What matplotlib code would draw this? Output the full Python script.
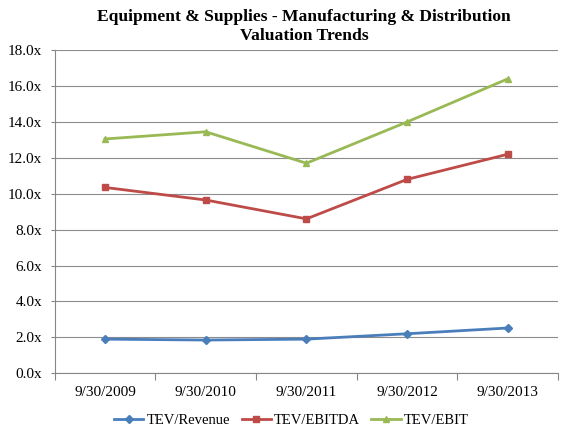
import matplotlib
matplotlib.use('Agg')
import matplotlib.pyplot as plt
import numpy as np
from matplotlib.ticker import FuncFormatter, FixedLocator

dates = ['9/30/2009', '9/30/2010', '9/30/2011', '9/30/2012', '9/30/2013']
tev_revenue = [1.90, 1.85, 1.90, 2.20, 2.52]
tev_ebitda = [10.35, 9.65, 8.60, 10.80, 12.20]
tev_ebit = [13.05, 13.45, 11.70, 14.00, 16.40]

plt.rcParams['font.family'] = ['Liberation Serif', 'DejaVu Serif']

fig = plt.figure(figsize=(5.76, 4.32), dpi=100)
ax = fig.add_axes([0.095, 0.136, 0.874, 0.748])

x = np.arange(len(dates))
ax.plot(x, tev_revenue, color='#4A7EBB', lw=2, marker='D', ms=4.5, label='TEV/Revenue')
ax.plot(x, tev_ebitda, color='#BE4B48', lw=2, marker='s', ms=4.5, label='TEV/EBITDA')
ax.plot(x, tev_ebit, color='#98B954', lw=2, marker='^', ms=5, label='TEV/EBIT')

ax.set_xlim(-0.5, len(dates) - 0.5)
ax.set_ylim(0, 18)
ax.set_yticks(np.arange(0, 18.1, 2))
ax.yaxis.set_major_formatter(FuncFormatter(lambda v, p: '%.1fx' % v))
ax.yaxis.grid(True, color='#8c8c8c', lw=0.8)
ax.set_axisbelow(True)

ax.xaxis.set_major_locator(FixedLocator(np.arange(-0.5, len(dates), 1)))
ax.xaxis.set_major_formatter(FuncFormatter(lambda v, p: ''))
ax.xaxis.set_minor_locator(FixedLocator(x))
ax.set_xticklabels(dates, minor=True)
ax.tick_params(axis='x', which='minor', length=0, labelsize=11, pad=9)
ax.tick_params(axis='x', which='major', length=5, color='#868686')
ax.tick_params(axis='y', length=3, color='#868686', labelsize=11, pad=6)

for s in ['top', 'right']:
    ax.spines[s].set_visible(False)
for s in ['left', 'bottom']:
    ax.spines[s].set_color('#868686')

fig.text(0.528, 0.939, 'Equipment & Supplies - Manufacturing & Distribution\nValuation Trends',
         fontsize=12.6, fontweight='bold', linespacing=1.2, ha='center', va='center')

ax.legend(loc='upper center', bbox_to_anchor=(0.47, -0.085), ncol=3, frameon=False,
          fontsize=10.5, handlelength=2, handletextpad=0.2, columnspacing=0.8)

fig.savefig('out.png', dpi=100)
